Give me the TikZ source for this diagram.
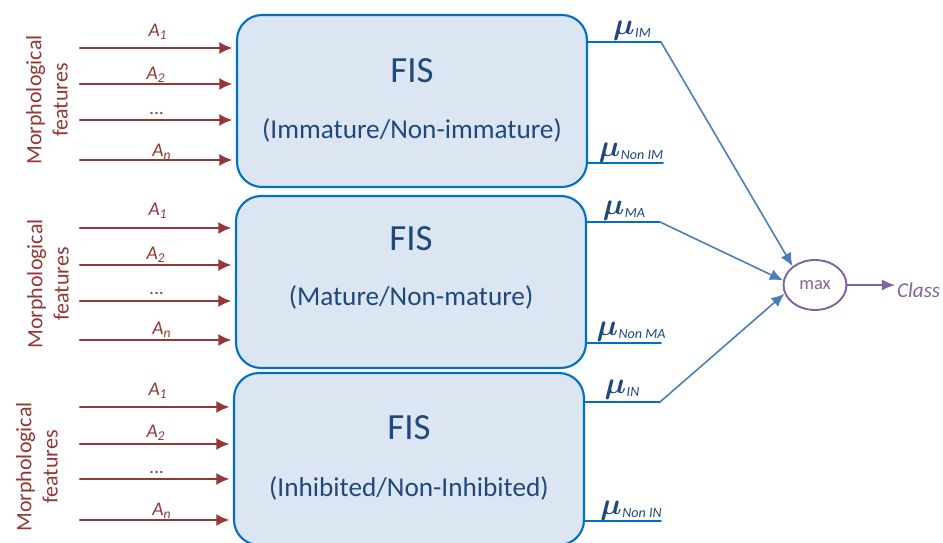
\documentclass[tikz,border=0pt]{standalone}
\usepackage{fontspec}
\setmainfont{Carlito}
\usepackage{amsmath,bm}
\usetikzlibrary{arrows.meta,shapes.geometric}
\definecolor{fisfill}{RGB}{220,230,242}
\definecolor{fisline}{RGB}{0,112,192}
\definecolor{fistext}{RGB}{31,73,125}
\definecolor{featred}{RGB}{149,55,53}
\definecolor{outblue}{RGB}{74,126,187}
\definecolor{maxviolet}{RGB}{128,100,162}
\tikzset{
  fisbox/.style={draw=fisline, fill=fisfill, line width=1.2pt, rounded corners=0.5cm, minimum width=7cm, minimum height=3.44cm},
  fistitle/.style={text=fistext, font=\fontsize{21}{24}\selectfont},
  fissub/.style={text=fistext, font=\fontsize{15.5}{19}\selectfont},
  featarrow/.style={draw=featred, line width=1.4pt, -{Latex[length=7.5pt,width=7pt]}, shorten >=2pt},
  featlabel/.style={text=featred, font=\fontsize{11}{12}\selectfont\itshape},
  featgroup/.style={text=featred, rotate=90, align=center, font=\fontsize{12.5}{15}\selectfont},
  outline/.style={draw=fisline, line width=0.9pt},
  outlabel/.style={text=fistext, inner sep=0pt},
  tomax/.style={draw=outblue, line width=0.9pt, -{Latex[length=7.5pt,width=6.5pt]}},
}
\newcommand{\mulabel}[1]{{\fontsize{18}{18}\selectfont$\bm{\mu}$}\kern0.3pt\raisebox{-1.5pt}{\fontsize{8}{9}\selectfont\itshape #1}}
\begin{document}
\begin{tikzpicture}[x=0.02cm, y=-0.02cm, line join=round, line cap=round]
\useasboundingbox (0,0) rectangle (943,543);
% the three FIS blocks
\node[fisbox] (fis1) at (412,101) {};
\node[fisbox] (fis2) at (411,282) {};
\node[fisbox] (fis3) at (409,459) {};
\node[fistitle] (t1) at (412,71) {FIS};
\node[fissub] (s1) at (412,130) {(Immature/Non-immature)};
\node[fistitle] (t2) at (411,239) {FIS};
\node[fissub] (s2) at (411,297) {(Mature/Non-mature)};
\node[fistitle] (t3) at (409,428) {FIS};
\node[fissub] (s3) at (409,488) {(Inhibited/Non-Inhibited)};
% inputs
\foreach \b/\ya/\yb/\yc/\yd/\la/\lb/\lc/\ld/\gx/\gy in {1/48/84/120/160/32/75/113/152/47/100, 2/228/265/301/340/211/255/293/330/48/284, 3/407/444/479/520/391/433/472/511/37/467}{
  \coordinate (in\b a) at (80,\ya);
  \coordinate (in\b b) at (80,\yb);
  \coordinate (in\b c) at (80,\yc);
  \coordinate (in\b d) at (80,\yd);
  \draw[featarrow] (in\b a) -- (in\b a -| fis\b.west);
  \draw[featarrow] (in\b b) -- (in\b b -| fis\b.west);
  \draw[featarrow] (in\b c) -- (in\b c -| fis\b.west);
  \draw[featarrow] (in\b d) -- (in\b d -| fis\b.west);
  \node[featlabel] (la\b) at (158,\la) {A\textsubscript{1}};
  \node[featlabel] (lb\b) at (156,\lb) {A\textsubscript{2}};
  \node[featlabel] (lc\b) at (157,\lc) {...};
  \node[featlabel] (ld\b) at (162,\ld) {A\textsubscript{n}};
  \node[featgroup] (grp\b) at (\gx,\gy) {Morphological\\features};
}
% outputs
\coordinate (o1) at (661,42);
\coordinate (n1) at (663,163);
\coordinate (o2) at (660,222);
\coordinate (n2) at (661,343);
\coordinate (o3) at (660,402);
\coordinate (n3) at (661,521);
\draw[outline] (o1 -| fis1.east) -- (o1);
\draw[outline] (n1 -| fis1.east) -- (n1);
\draw[outline] (o2 -| fis2.east) -- (o2);
\draw[outline] (n2 -| fis2.east) -- (n2);
\draw[outline] (o3 -| fis3.east) -- (o3);
\draw[outline] (n3 -| fis3.east) -- (n3);
\node[outlabel] (mo1) at (632,31) {\mulabel{IM}};
\node[outlabel] (mn1) at (631,153) {\mulabel{Non IM}};
\node[outlabel] (mo2) at (624,211) {\mulabel{MA}};
\node[outlabel] (mn2) at (631,332) {\mulabel{Non MA}};
\node[outlabel] (mo3) at (622,390) {\mulabel{IN}};
\node[outlabel] (mn3) at (631,511) {\mulabel{Non IN}};
% max and class
\node[ellipse, draw=maxviolet, line width=1.1pt, minimum width=1.26cm, minimum height=1.0cm, text=maxviolet, font=\fontsize{10.5}{12}\selectfont] (max) at (815,285) {max};
\node[text=maxviolet, font=\fontsize{12}{14}\selectfont\itshape, anchor=west, inner sep=1pt] (class) at (895,290) {Class};
\draw[tomax] (o1) -- (max.140);
\draw[tomax] (o2) -- (max.172);
\draw[tomax] (o3) -- (max.196);
\draw[draw=maxviolet, line width=1.1pt, -{Latex[length=7.5pt,width=6.5pt]}] (max) -- (max -| class.west);
\end{tikzpicture}
\end{document}
